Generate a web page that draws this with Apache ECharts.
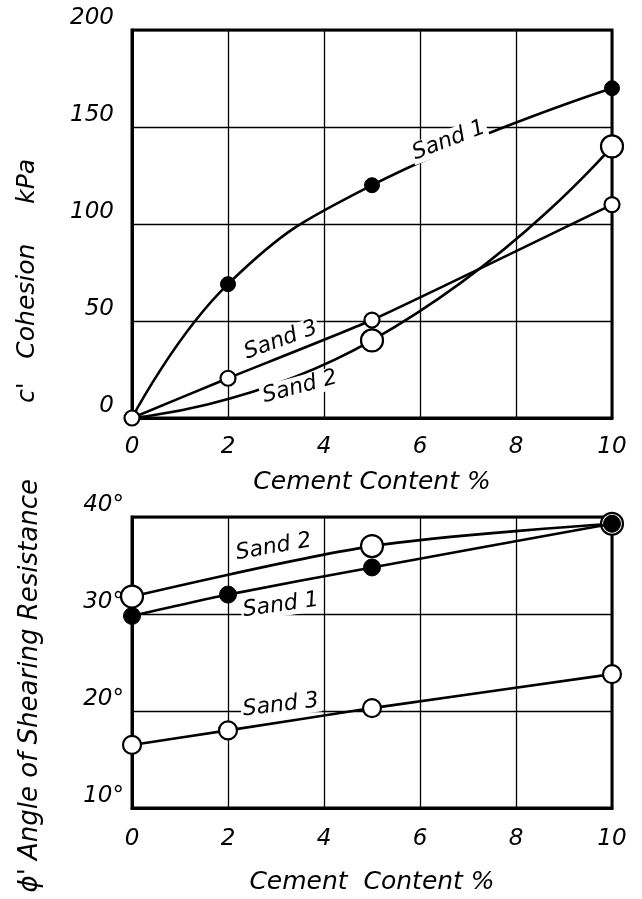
<!DOCTYPE html>
<html><head><meta charset="utf-8">
<script src="https://cdn.jsdelivr.net/npm/echarts@6/dist/echarts.min.js"></script>
<style>html,body{margin:0;padding:0;background:#fff}#c{width:642px;height:899px}</style>
</head><body><div id="c"></div>
<script>
// ---- data ----
const xTicks = [0, 2, 4, 6, 8, 10];
const cohTicks = [0, 50, 100, 150, 200];
const phiTicks = [10, 20, 30, 40];

const sand1CohX = [0, 2, 5, 10];
const sand1Coh  = [0, 69, 120, 170];
const sand2CohX = [0, 5, 10];
const sand2Coh  = [0, 40, 140];
const sand3CohX = [0, 2, 5, 10];
const sand3Coh  = [0, 20.5, 50.5, 110];

const sand1PhiX = [0, 2, 5, 10];
const sand1Phi  = [29.8, 32, 34.8, 39.3];
const sand2PhiX = [0, 5, 10];
const sand2Phi  = [31.8, 37, 39.3];
const sand3PhiX = [0, 2, 5, 10];
const sand3Phi  = [16.5, 18, 20.3, 23.8];

const seriesNames = ['Sand 1', 'Sand 2', 'Sand 3'];
const xTitleTop = 'Cement Content %';
const xTitleBottom = 'Cement  Content %';
const yTitleTop = "c'   Cohesion     kPa";
const yTitleBottom = "ϕ' Angle of Shearing Resistance";

// ---- build ----
const FONT = 'DejaVu Sans';
const pts = (xs, ys) => xs.map((x, i) => [x, ys[i]]);
const black = '#000';

function axisX(idx, name, nameGap, margin) {
  return {
    gridIndex: idx, type: 'value', min: 0, max: 10, interval: 2,
    name, nameLocation: 'middle', nameGap,
    nameTextStyle: {fontFamily: FONT, fontStyle: 'italic', fontSize: 25, color: black},
    axisLine: {show: true, lineStyle: {color: black, width: 3}},
    axisTick: {show: false},
    axisLabel: {fontFamily: FONT, fontStyle: 'italic', fontSize: 23, color: black, margin},
    splitLine: {show: true, lineStyle: {color: black, width: 1.3}}
  };
}
function axisY(idx, min, max, interval, margin, fmt) {
  return {
    gridIndex: idx, type: 'value', min, max, interval,
    axisLine: {show: true, lineStyle: {color: black, width: 3}},
    axisTick: {show: false},
    axisLabel: {fontFamily: FONT, fontStyle: 'italic', fontSize: 23, color: black, margin,
      verticalAlign: 'bottom', formatter: fmt},
    splitLine: {show: true, lineStyle: {color: black, width: 1.3}}
  };
}
function line(name, data, g, opts) {
  return Object.assign({
    name, type: 'line', xAxisIndex: g, yAxisIndex: g, data,
    lineStyle: {color: black, width: 2.6},
    itemStyle: {color: '#fff', borderColor: black, borderWidth: 2.2},
    symbol: 'circle', z: 3
  }, opts);
}
const filled = {color: black, borderColor: black, borderWidth: 1};

const option = {
  animation: false,
  backgroundColor: '#fff',
  grid: [
    {left: 132, right: 30, top: 30, height: 388, show: true, borderColor: black, borderWidth: 3},
    {left: 132, right: 30, top: 517, height: 291, show: true, borderColor: black, borderWidth: 3}
  ],
  xAxis: [axisX(0, xTitleTop, 52, 18), axisX(1, xTitleBottom, 62, 20)],
  yAxis: [
    axisY(0, 0, 200, 50, 18, v => v),
    axisY(1, 10, 40, 10, 8, v => v + '°')
  ],
  series: [
    line(seriesNames[0], pts(sand1CohX, sand1Coh).map((p, i) => i === 0 ? {value: p, symbol: 'none'} : p), 0,
      {smooth: 0.45, symbolSize: 15, itemStyle: filled, z: 4}),
    line(seriesNames[1], pts(sand2CohX, sand2Coh).map((p, i) => i === 0 ? {value: p, symbol: 'none'} : p), 0,
      {smooth: 0.55, symbolSize: 22}),
    line(seriesNames[2], pts(sand3CohX, sand3Coh), 0, {smooth: 0.15, symbolSize: 15, z: 5}),
    line(seriesNames[1], pts(sand2PhiX, sand2Phi), 1, {smooth: 0.3, symbolSize: 22}),
    line(seriesNames[0], pts(sand1PhiX, sand1Phi), 1, {smooth: 0.2, symbolSize: 17, itemStyle: filled, z: 4}),
    line(seriesNames[2], pts(sand3PhiX, sand3Phi), 1, {smooth: 0.15, symbolSize: 18})
  ]
};

const chart = echarts.init(document.getElementById('c'), null, {renderer: 'canvas'});
chart.setOption(option);

// curve labels (anchor in data coordinates, rotation in degrees)
const curveLabels = [
  {text: seriesNames[0], g: 0, at: [6.6, 143], rot: 21},
  {text: seriesNames[2], g: 0, at: [3.1, 40], rot: 20},
  {text: seriesNames[1], g: 0, at: [3.5, 16], rot: 15},
  {text: seriesNames[1], g: 1, at: [2.95, 36.9], rot: 10},
  {text: seriesNames[0], g: 1, at: [3.1, 30.9], rot: 8},
  {text: seriesNames[2], g: 1, at: [3.1, 20.6], rot: 7}
];
const graphics = curveLabels.map(l => {
  const p = chart.convertToPixel({gridIndex: l.g}, l.at);
  return {
    type: 'text', x: p[0], y: p[1], rotation: l.rot * Math.PI / 180, z: 10,
    style: {text: l.text, fontFamily: FONT, fontStyle: 'italic', fontSize: 22, fill: black,
      align: 'center', verticalAlign: 'middle', backgroundColor: '#fff', padding: [0, 2]}
  };
});
// vertical axis titles (placed relative to the grids)
const yTitles = [
  {text: yTitleTop, g: 0, atY: 70.6, dx: -105, size: 25},
  {text: yTitleBottom, g: 1, atY: 22.6, dx: -102, size: 26}
];
yTitles.forEach(t => {
  const p = chart.convertToPixel({gridIndex: t.g}, [0, t.atY]);
  graphics.push({
    type: 'text', x: p[0] + t.dx, y: p[1], rotation: Math.PI / 2, z: 10,
    style: {text: t.text, fontFamily: FONT, fontStyle: 'italic', fontSize: t.size, fill: black,
      align: 'center', verticalAlign: 'middle'}
  });
});
chart.setOption({graphic: graphics});
</script></body></html>
